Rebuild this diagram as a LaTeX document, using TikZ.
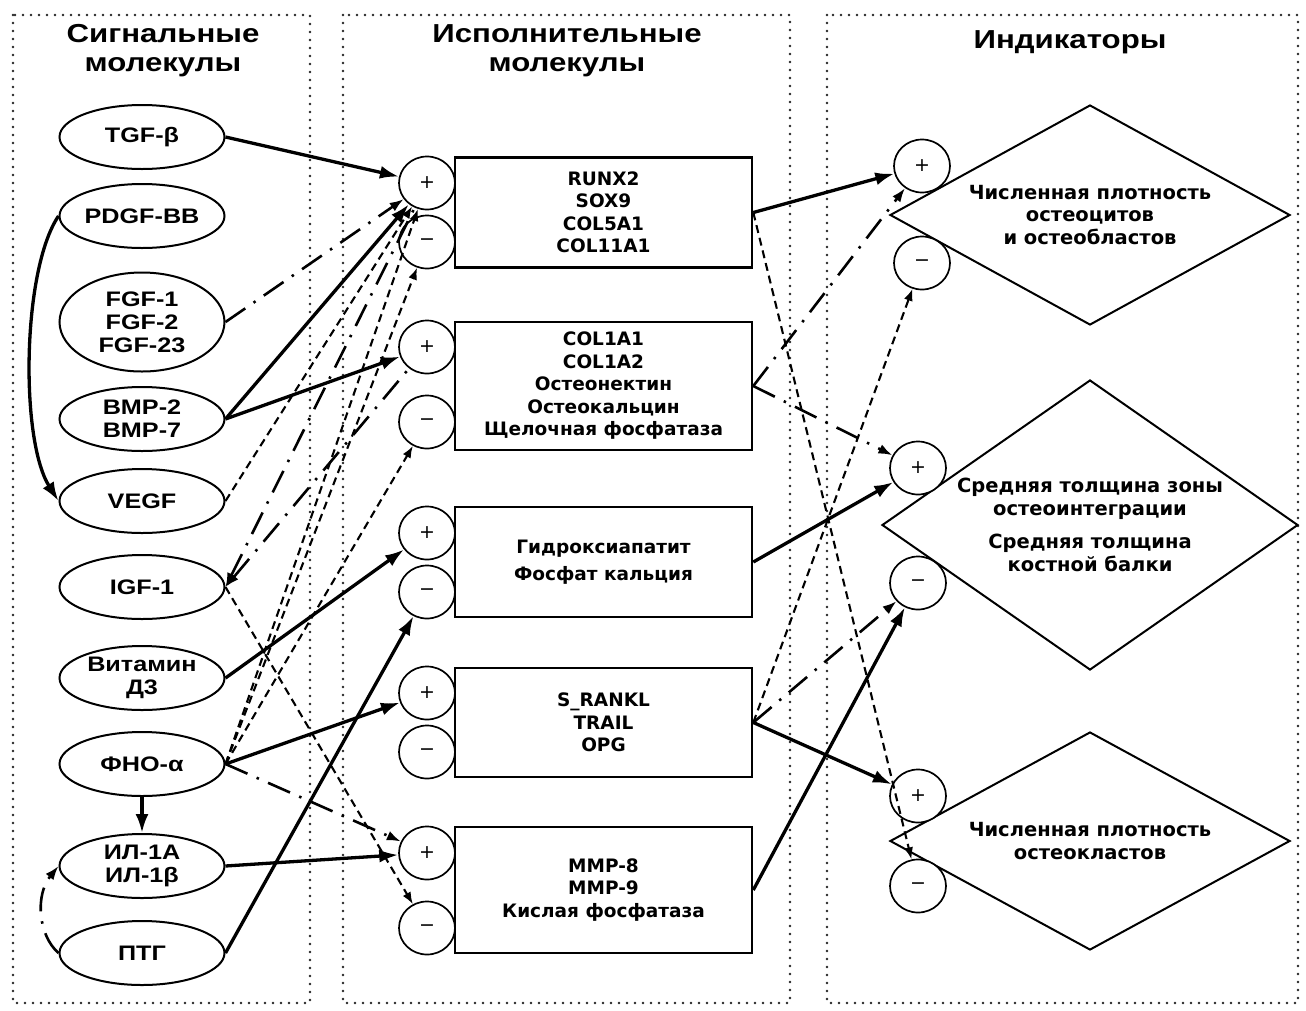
\documentclass[tikz,border=0pt]{standalone}
\usepackage{fontspec}
\setmainfont{Liberation Sans}
\newfontfamily\molfont[FakeStretch=1.2]{Liberation Sans}
\newfontfamily\genfont{DejaVu Sans}
\usetikzlibrary{shapes.geometric,arrows.meta}

\begin{document}
\begin{tikzpicture}[x=1pt, y=-1pt,
    panel/.style={line width=2.6pt, line cap=round, dash pattern=on 0pt off 8pt, black!85},
    ttl/.style={align=center, font=\molfont\bfseries\fontsize{26}{29}\selectfont},
    mol/.style={draw, ellipse, line width=2pt, minimum width=165pt, minimum height=64pt, inner sep=0pt, align=center, font=\molfont\bfseries\fontsize{21}{23}\selectfont},
    gene/.style={draw, rectangle, line width=2.6pt, minimum width=297pt, inner sep=0pt, align=center, font=\genfont\bfseries\fontsize{18.5}{22.5}\selectfont},
    sign/.style={draw, ellipse, fill=white, line width=1.7pt, minimum width=56pt, minimum height=53pt, inner sep=0pt, font=\genfont\fontsize{19}{19}\selectfont},
    ind/.style={draw, diamond, line width=2pt, inner sep=0pt, align=center, font=\genfont\bfseries\fontsize{19.5}{22.5}\selectfont},
    sol/.style={line width=3.3pt, -{Latex[length=19pt,width=13pt]}},
    dsh/.style={line width=2.1pt, dash pattern=on 8pt off 5pt, -{Latex[length=12pt,width=9pt]}},
    ddot/.style={line width=2.6pt, dash pattern=on 24pt off 10pt on 2.5pt off 10pt, -{Latex[length=14pt,width=10pt]}}]
    \useasboundingbox (0,0) rectangle (1306,1010);
    \draw[panel] (13,15) rectangle (310,1003);
    \draw[panel] (343,15) rectangle (790,1003);
    \draw[panel] (827,15) rectangle (1298,1003);
    \node[ttl] (ttlsig) at (163,51) {Сигнальные\\молекулы};
    \node[ttl] (ttlexe) at (567,51) {Исполнительные\\молекулы};
    \node[ttl] (ttlind) at (1070,42) {Индикаторы};
    \node[mol] (tgf) at (142,137) {TGF-β};
    \node[mol] (pdgf) at (142,216) {PDGF-BB};
    \node[mol, minimum height=99pt] (fgf) at (142,322) {FGF-1\\FGF-2\\FGF-23};
    \node[mol] (bmp) at (142,419) {BMP-2\\BMP-7};
    \node[mol] (vegf) at (142,501) {VEGF};
    \node[mol] (igf) at (142,587) {IGF-1};
    \node[mol] (vitd) at (142,678) {Витамин\\Д3};
    \node[mol] (tnf) at (142,764) {ФНО-α};
    \node[mol] (il1) at (142,866) {ИЛ-1A\\ИЛ-1β};
    \node[mol] (pth) at (142,953) {ПТГ};
    \node[gene, minimum height=110pt] (runx) at (603.5,212.5) {RUNX2\\SOX9\\COL5A1\\COL11A1};
    \node[gene, minimum height=128pt] (col) at (603.5,386) {COL1A1\\COL1A2\\Остеонектин\\Остеокальцин\\Щелочная фосфатаза};
    \node[gene, minimum height=110pt] (hap) at (603.5,562) {Гидроксиапатит\\[5pt]Фосфат кальция};
    \node[gene, minimum height=109pt] (rankl) at (603.5,722.5) {S\_RANKL\\TRAIL\\OPG};
    \node[gene, minimum height=126pt] (mmp) at (603.5,890) {MMP-8\\MMP-9\\Кислая фосфатаза};
    \node[ind, minimum width=400pt, minimum height=220pt, aspect=1.82] (dens) at (1090,215) {Численная плотность\\остеоцитов\\и остеобластов};
    \node[ind, minimum width=416pt, minimum height=290pt, aspect=1.43] (thick) at (1090,525) {Средняя толщина зоны\\остеоинтеграции\\[11pt]Средняя толщина\\костной балки};
    \node[ind, minimum width=400pt, minimum height=218pt, aspect=1.83] (ocl) at (1090,841) {Численная плотность\\остеокластов};
    \node[sign] (runxp) at (427,183) {+};
    \node[sign] (runxm) at (427,242) {−};
    \node[sign] (colp) at (427,347) {+};
    \node[sign] (colm) at (427,422) {−};
    \node[sign] (happ) at (427,533) {+};
    \node[sign] (hapm) at (427,592) {−};
    \node[sign] (ranklp) at (427,693) {+};
    \node[sign] (ranklm) at (427,752) {−};
    \node[sign] (mmpp) at (427,853) {+};
    \node[sign] (mmpm) at (427,928) {−};
    \node[sign] (densp) at (922,166) {+};
    \node[sign] (densm) at (922,263) {−};
    \node[sign] (thickp) at (918,468) {+};
    \node[sign] (thickm) at (918,583) {−};
    \node[sign] (oclp) at (918,796) {+};
    \node[sign] (oclm) at (918,886) {−};
    \draw[sol] (pdgf.west) .. controls (22,270) and (20,440) .. (vegf.west);
    \draw[ddot] (pth.west) .. controls (38,935) and (35,895) .. (il1.west);
    \draw[sol] (tnf.south) -- (il1.north);
    \draw[sol] (tgf.east) -- (runxp);
    \draw[sol] (bmp.east) -- (runxp);
    \draw[sol] (bmp.east) -- (colp);
    \draw[ddot] (fgf.east) -- (runxp);
    \draw[dsh] (vegf.east) -- (runxp);
    \draw[ddot, {Latex[length=14pt,width=10pt]}-] (igf.east) -- (runxp);
    \draw[ddot, {Latex[length=14pt,width=10pt]}-] (igf.east) -- (colp);
    \draw[dsh] (igf.east) -- (mmpm);
    \draw[sol] (vitd.east) -- (happ);
    \draw[dsh] (tnf.east) -- (runxp);
    \draw[dsh] (tnf.east) -- (runxm);
    \draw[dsh] (tnf.east) -- (colm);
    \draw[sol] (tnf.east) -- (ranklp);
    \draw[ddot] (tnf.east) -- (mmpp);
    \draw[sol] (il1.east) -- (mmpp);
    \draw[sol] (pth.east) -- (hapm);
    \draw[sol] (runx.east) -- (densp);
    \draw[dsh] (runx.east) -- (oclm);
    \draw[ddot] (col.east) -- (densp);
    \draw[ddot] (col.east) -- (thickp);
    \draw[sol] (hap.east) -- (thickp);
    \draw[sol] (rankl.east) -- (oclp);
    \draw[dsh] (rankl.east) -- (densm);
    \draw[ddot] (rankl.east) -- (thickm);
    \draw[sol] (mmp.east) -- (thickm);
\end{tikzpicture}
\end{document}
